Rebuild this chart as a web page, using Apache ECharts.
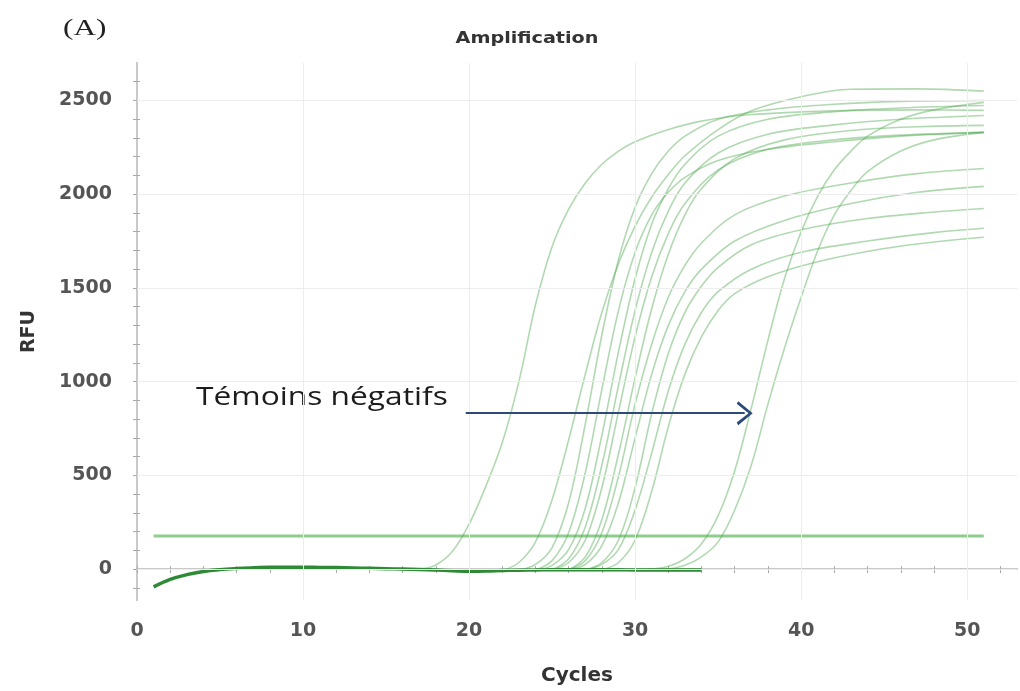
<!DOCTYPE html>
<html>
<head>
<meta charset="utf-8">
<title>Amplification</title>
<script src="https://cdn.jsdelivr.net/npm/echarts@6.0.0/dist/echarts.min.js"></script>
<style>
  html, body { margin: 0; padding: 0; background: #fff; }
  #main { width: 1020px; height: 691px; }
</style>
</head>
<body>
<div id="main"></div>
<script>
// axes
const xLabels = [0, 10, 20, 30, 40, 50];
const xTicks = [0, 2, 4, 6, 8, 10, 12, 14, 16, 18, 20, 22, 24, 26, 28, 30, 32, 34, 36, 38, 40, 42, 44, 46, 48, 50, 52];
const yLabels = [0, 500, 1000, 1500, 2000, 2500];
const yTicks = [-100, 0, 100, 200, 300, 400, 500, 600, 700, 800, 900, 1000, 1100, 1200, 1300, 1400, 1500, 1600,
  1700, 1800, 1900, 2000, 2100, 2200, 2300, 2400, 2500, 2600];
const gridX = [10, 20, 30, 40, 50];
const gridY = [0, 500, 1000, 1500, 2000, 2500];

// seuil (threshold)
const threshold = [[1, 176], [51, 176]];

// common baseline of all wells (cycle, RFU)
const baseline = [[1, -95], [2, -55], [3, -30], [4, -13], [5, -3], [6, 3], [7, 7], [8, 10], [9, 10], [10, 10],
  [11, 9], [12, 8], [13, 6], [14, 4], [15, 2], [16, 0], [17, -2], [18, -5], [19, -9], [20, -12], [21, -11],
  [22, -8], [23, -6], [24, -5], [25, -4], [26, -4], [27, -4], [28, -4], [29, -4], [30, -5], [31, -5], [32, -5],
  [33, -5], [34, -5]];

// amplification curves
const curveA = [[17, -2], [18, 22], [19, 95], [20, 240], [21, 440], [22, 675], [23, 1000], [24, 1410], [25, 1720],
  [26, 1920], [27, 2060], [28, 2160], [29, 2230], [30, 2280], [32, 2345], [34, 2390], [37, 2425], [42, 2445], [47, 2450], [51, 2447]];
const curveB = [[22, -8], [23, 35], [24, 145], [25, 370], [26, 690], [27, 1040], [28, 1370], [29, 1630], [30, 1830],
  [31, 1985], [32, 2105], [33, 2205], [35, 2345], [37, 2445], [40, 2520], [43, 2560], [47, 2562], [51, 2550]];
const curveC1 = [[23, -6], [24, 25], [25, 115], [26, 355], [27, 775], [28, 1250], [29, 1650], [30, 1930], [31, 2110],
  [32, 2230], [33, 2310], [35, 2400], [38, 2450], [42, 2480], [46, 2495], [51, 2500]];
const curveC2 = [[24, -5], [25, 45], [26, 195], [27, 515], [28, 960], [29, 1380], [30, 1690], [31, 1890], [32, 2010],
  [33, 2090], [35, 2180], [38, 2240], [42, 2280], [46, 2310], [51, 2330]];
const curveC3 = [[24, -5], [25, 20], [26, 105], [27, 325], [28, 715], [29, 1160], [30, 1550], [31, 1840], [32, 2030],
  [33, 2160], [35, 2310], [38, 2400], [42, 2440], [46, 2460], [51, 2473]];
const curveC4 = [[25, -4], [26, 55], [27, 225], [28, 555], [29, 980], [30, 1380], [31, 1690], [32, 1910], [33, 2060],
  [35, 2220], [38, 2320], [42, 2370], [46, 2400], [51, 2420]];
const curveC5 = [[25, -4], [26, 35], [27, 155], [28, 435], [29, 840], [30, 1240], [31, 1560], [32, 1790], [33, 1950],
  [35, 2130], [38, 2240], [42, 2290], [46, 2315], [51, 2330]];
const curveC6 = [[26, -4], [27, 65], [28, 265], [29, 615], [30, 1020], [31, 1390], [32, 1680], [33, 1890], [34, 2030],
  [36, 2190], [39, 2290], [43, 2340], [47, 2360], [51, 2367]];
const curveC7 = [[26, -4], [27, 45], [28, 195], [29, 495], [30, 880], [31, 1200], [32, 1450], [33, 1620], [34, 1740],
  [36, 1890], [39, 1990], [43, 2060], [47, 2110], [51, 2137]];
const curveC8 = [[26, -4], [27, 25], [28, 125], [29, 355], [30, 700], [31, 1040], [32, 1300], [33, 1480], [34, 1600],
  [36, 1750], [39, 1860], [43, 1950], [47, 2010], [51, 2042]];
const curveC9 = [[27, -4], [28, 35], [29, 155], [30, 435], [31, 830], [32, 1150], [33, 1370], [34, 1510], [35, 1610],
  [37, 1730], [40, 1810], [44, 1870], [48, 1905], [51, 1924]];
const curveC10 = [[27, -4], [28, 25], [29, 105], [30, 315], [31, 620], [32, 950], [33, 1200], [34, 1370], [35, 1480],
  [37, 1600], [40, 1690], [44, 1750], [48, 1795], [51, 1818]];
const curveC11 = [[28, -4], [29, 35], [30, 155], [31, 415], [32, 760], [33, 1040], [34, 1240], [35, 1380], [36, 1470],
  [38, 1560], [41, 1640], [45, 1710], [48, 1745], [51, 1770]];
// témoins négatifs (late curves)
const curveL1 = [[30, -5], [31, 0], [32, 15], [33, 55], [34, 135], [35, 285], [36, 525], [37, 860], [38, 1220], [39, 1550],
  [40, 1800], [41, 1990], [42, 2130], [43, 2230], [44, 2310], [46, 2400], [48, 2450], [51, 2490]];
const curveL2 = [[31, -5], [32, 0], [33, 20], [34, 65], [35, 145], [36, 315], [37, 555], [38, 880], [39, 1180], [40, 1450],
  [41, 1700], [42, 1890], [43, 2020], [44, 2120], [46, 2230], [48, 2290], [51, 2330]];

const curves = [curveA, curveB, curveC1, curveC2, curveC3, curveC4, curveC5, curveC6, curveC7, curveC8,
  curveC9, curveC10, curveC11, curveL1, curveL2];

// arrow annotation (cycle, RFU)
const arrowFrom = [19.8, 832];
const arrowTo = [36.6, 832];

const tickFont = { fontFamily: 'DejaVu Sans', fontWeight: 'bold', fontSize: 19, color: '#555' };
const axisGrey = '#c9c9c9';

const chart = echarts.init(document.getElementById('main'));

const curveSeries = curves.map(function (c) {
  return {
    type: 'line', data: c, smooth: 0.35, symbol: 'none', silent: true, z: 3,
    lineStyle: { color: 'rgba(70,165,70,0.42)', width: 1.6 }
  };
});

chart.setOption({
  animation: false,
  backgroundColor: '#fff',
  grid: { left: 137, right: 3, top: 63, bottom: 91 },
  xAxis: [{
    type: 'value', min: 0, max: 53, position: 'bottom',
    name: 'Cycles', nameLocation: 'middle', nameGap: 66,
    nameTextStyle: { fontFamily: 'DejaVu Sans', fontWeight: 'bold', fontSize: 20, color: '#333' },
    axisLine: { show: true, lineStyle: { color: axisGrey, width: 2 } },
    axisTick: { show: true, customValues: xTicks, length: 4, lineStyle: { color: '#aaa' } },
    axisLabel: Object.assign({ customValues: xLabels, margin: 22, formatter: function (v) { return String(v); } }, tickFont),
    splitLine: { show: false }
  }, {
    type: 'value', min: 0, max: 53, position: 'top',
    axisLine: { show: true, lineStyle: { color: axisGrey, width: 2 } },
    axisTick: { show: true, customValues: xTicks, length: 3, lineStyle: { color: '#aaa' } },
    axisLabel: { show: false },
    splitLine: { show: false }
  }],
  yAxis: [{
    type: 'value', min: -165, max: 2700, position: 'left',
    name: 'RFU', nameLocation: 'middle', nameGap: 98,
    nameTextStyle: { fontFamily: 'DejaVu Sans', fontWeight: 'bold', fontSize: 19, color: '#333' },
    axisLine: { show: true, lineStyle: { color: axisGrey, width: 2 } },
    axisTick: { show: true, customValues: yTicks, length: 4, lineStyle: { color: '#aaa' } },
    axisLabel: Object.assign({ customValues: yLabels, margin: 25, formatter: function (v) { return String(v); } }, tickFont),
    splitLine: { show: false }
  }, {
    type: 'value', min: -165, max: 2700, position: 'right',
    axisLine: { show: true, lineStyle: { color: axisGrey, width: 2 } },
    axisTick: { show: true, customValues: yTicks, length: 3, lineStyle: { color: '#aaa' } },
    axisLabel: { show: false },
    splitLine: { show: false }
  }],
  graphic: [{
    type: 'text', x: 527, y: 39, scaleX: 1.28,
    style: { text: 'Amplification', font: 'bold 15px "DejaVu Sans"', fill: '#333', align: 'center', verticalAlign: 'middle' }
  }, {
    type: 'text', x: 63, y: 29, scaleX: 1.3,
    style: { text: '(A)', font: '24px "Liberation Serif"', fill: '#222', align: 'left', verticalAlign: 'middle' }
  }, {
    type: 'text', x: 196, y: 398, scaleX: 1.22,
    style: { text: 'Témoins négatifs', font: '26px "Open Sans"', fill: '#1c1c1c', align: 'left', verticalAlign: 'middle' }
  }],
  series: [{
    // threshold + faint grid lines
    type: 'line', data: threshold, symbol: 'none', silent: true, z: 2,
    lineStyle: { color: '#8fcd8f', width: 3 },
    markLine: {
      silent: true, symbol: 'none', label: { show: false },
      lineStyle: { color: '#ededed', width: 1, type: 'solid' },
      data: gridX.map(function (v) { return { xAxis: v }; }).concat(gridY.map(function (v) { return { yAxis: v }; }))
    }
  }].concat(curveSeries).concat([{
    type: 'line', data: baseline, smooth: 0.4, symbol: 'none', silent: true, z: 4,
    lineStyle: { color: '#2f8a36', width: 3.4 },
    markLine: {
      silent: true, label: { show: false },
      symbol: ['none', 'path://M0,14 L11,0 L22,14 L19.5,15.5 L11,4 L2.5,15.5 Z'],
      symbolSize: [24, 16],
      lineStyle: { color: '#2e4a78', width: 2, type: 'solid' },
      data: [[{ coord: arrowFrom }, { coord: arrowTo }]]
    }
  }])
});
</script>
</body>
</html>
